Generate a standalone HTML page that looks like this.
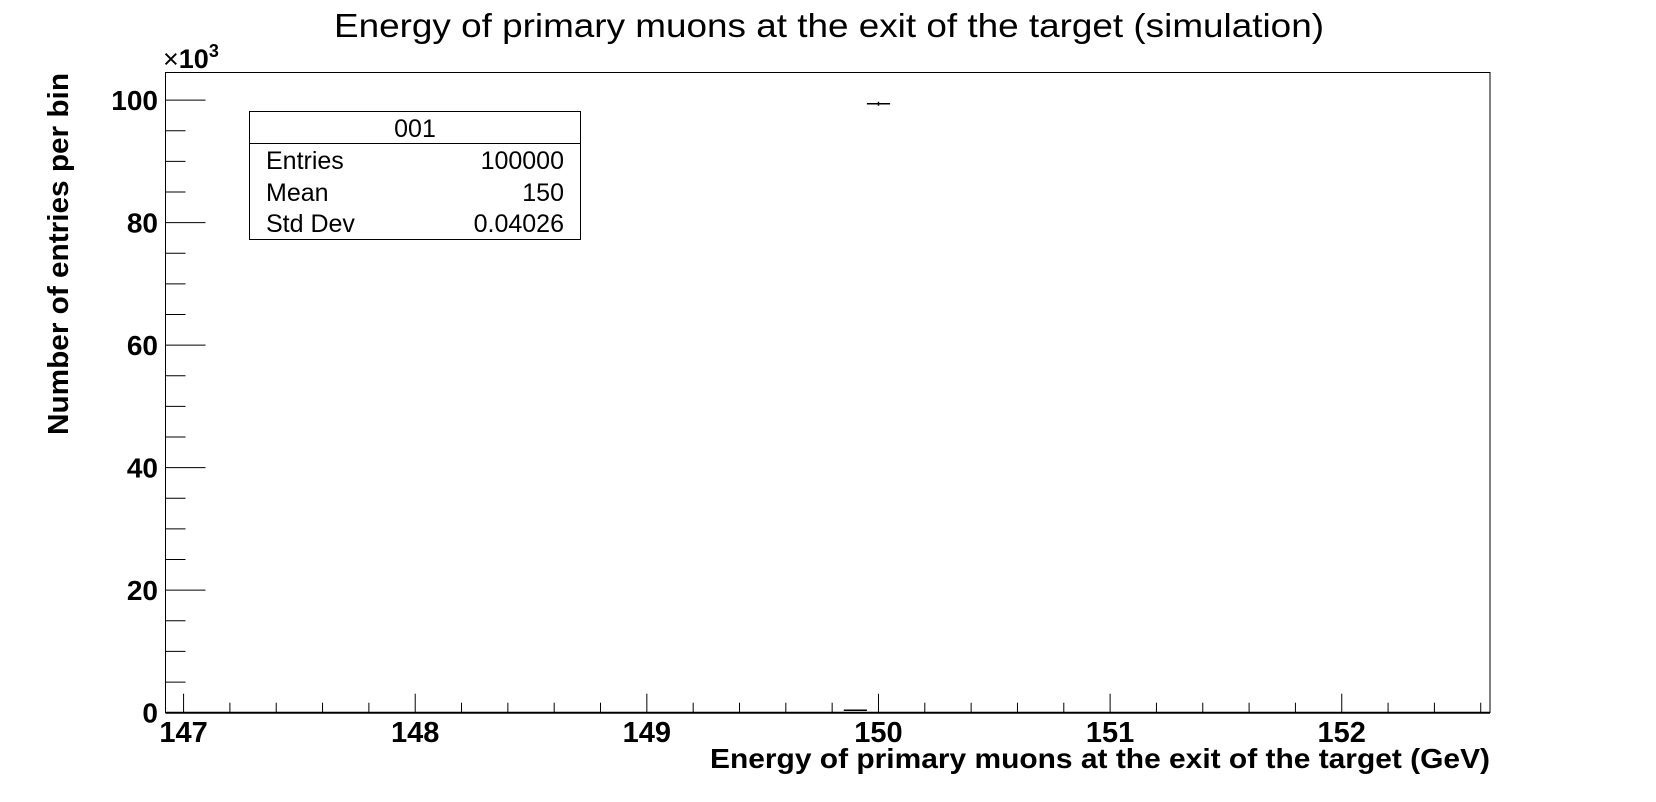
<!DOCTYPE html>
<html><head><meta charset="utf-8"><style>
html,body{margin:0;padding:0;background:#fff;}
svg{display:block;font-family:"Liberation Sans",Arial,sans-serif;}
</style></head><body>
<svg id="chart" width="1656" height="802" viewBox="0 0 1656 802">
<text x="829" y="37" font-size="33" text-anchor="middle" textLength="990" lengthAdjust="spacingAndGlyphs">Energy of primary muons at the exit of the target (simulation)</text>
<rect x="165.5" y="72.5" width="1324.5" height="640" fill="none" stroke="#000" stroke-width="1"/>
<g id="axes"></g>
<g id="marks"></g>
<text transform="translate(68,254) rotate(-90)" font-size="29" font-weight="bold" text-anchor="middle" textLength="362" lengthAdjust="spacingAndGlyphs">Number of entries per bin</text>
<text x="1490" y="768" font-size="28" font-weight="bold" text-anchor="end" textLength="780" lengthAdjust="spacingAndGlyphs">Energy of primary muons at the exit of the target (GeV)</text>
<text x="163" y="68" font-size="27">×<tspan font-weight="bold">10</tspan><tspan dy="-11" font-size="18" font-weight="bold">3</tspan></text>
<g>
<rect x="249.5" y="111.5" width="331" height="128" fill="#fff" stroke="#000" stroke-width="1"/>
<line x1="249.5" y1="143.5" x2="580.5" y2="143.5" stroke="#000"/>
<text x="415" y="137" font-size="25" text-anchor="middle">001</text>
<text x="266" y="169" font-size="25">Entries</text>
<text x="564" y="169" font-size="25" text-anchor="end">100000</text>
<text x="266" y="201" font-size="25">Mean</text>
<text x="564" y="201" font-size="25" text-anchor="end">150</text>
<text x="266" y="232" font-size="25">Std Dev</text>
<text x="564" y="232" font-size="25" text-anchor="end">0.04026</text>
</g>
</svg>
<script>
const binLow = [149.85, 149.95];
const binHigh = [149.95, 150.05];
const binCounts = [0.4, 99.4];
const binErrors = [0, 0.32];
const xTickLabels = ["147","148","149","150","151","152"];
const yTickLabels = ["0","20","40","60","80","100"];

const NS = "http://www.w3.org/2000/svg";
const X0 = 165.5, X1 = 1490, Y0 = 712.7, Y1 = 72.5;
const xMin = 146.922, xMax = 152.64, yMin = 0, yMax = 104.5;
function xs(v){ return X0 + (v - xMin) / (xMax - xMin) * (X1 - X0); }
function ys(v){ return Y0 - (v - yMin) / (yMax - yMin) * (Y0 - Y1); }
function mk(tag, attrs, parent){ const e = document.createElementNS(NS, tag); for (const k in attrs) e.setAttribute(k, attrs[k]); parent.appendChild(e); return e; }

const axes = document.getElementById("axes");
const marks = document.getElementById("marks");

let ax = mk("line", {x1:X0, y1:Y0, x2:X1, y2:Y0, stroke:"#000", "stroke-width":2}, axes);


let ay = mk("line", {x1:X0, y1:Y0, x2:X0, y2:Y1, stroke:"#000", "stroke-width":1}, axes);



for (let i = 0; i * 0.2 + 147 <= xMax + 1e-9; i++) {
  const v = 147 + i * 0.2, x = xs(v), major = (i % 5 === 0);
  const t = mk("line", {x1:x, y1:Y0, x2:x, y2:Y0 - (major ? 19 : 10), stroke:"#000", "stroke-width":1}, axes);
  
  
}
xTickLabels.forEach(function(lab){
  const tx = mk("text", {x:xs(parseFloat(lab)), y:742, "font-size":29, "font-weight":"bold", "text-anchor":"middle"}, axes);
  tx.textContent = lab;
  
  
});

for (let v = 0; v <= yMax + 1e-9; v += 5) {
  const y = ys(v), major = (v % 20 === 0);
  const t = mk("line", {x1:X0, y1:y, x2:X0 + (major ? 40 : 20), y2:y, stroke:"#000", "stroke-width":1}, axes);
  
  
}
yTickLabels.forEach(function(lab){
  const ty = mk("text", {x:158, y:ys(parseFloat(lab)) + 10, "font-size":28, "font-weight":"bold", "text-anchor":"end"}, axes);
  ty.textContent = lab;
  
  
});

binCounts.forEach(function(c, i){
  const xa = xs(binLow[i]), xb = xs(binHigh[i]), y = ys(c);
  const h = mk("line", {x1:xa, y1:y, x2:xb, y2:y, stroke:"#000", "stroke-width":1.5}, marks);
  
  
  if (binErrors[i] > 0) {
    const xc = (xa + xb) / 2;
    const e = mk("line", {x1:xc, y1:ys(c + binErrors[i]), x2:xc, y2:ys(c - binErrors[i]), stroke:"#000", "stroke-width":1.5}, marks);
    
    
  }
});
</script>
</body></html>
